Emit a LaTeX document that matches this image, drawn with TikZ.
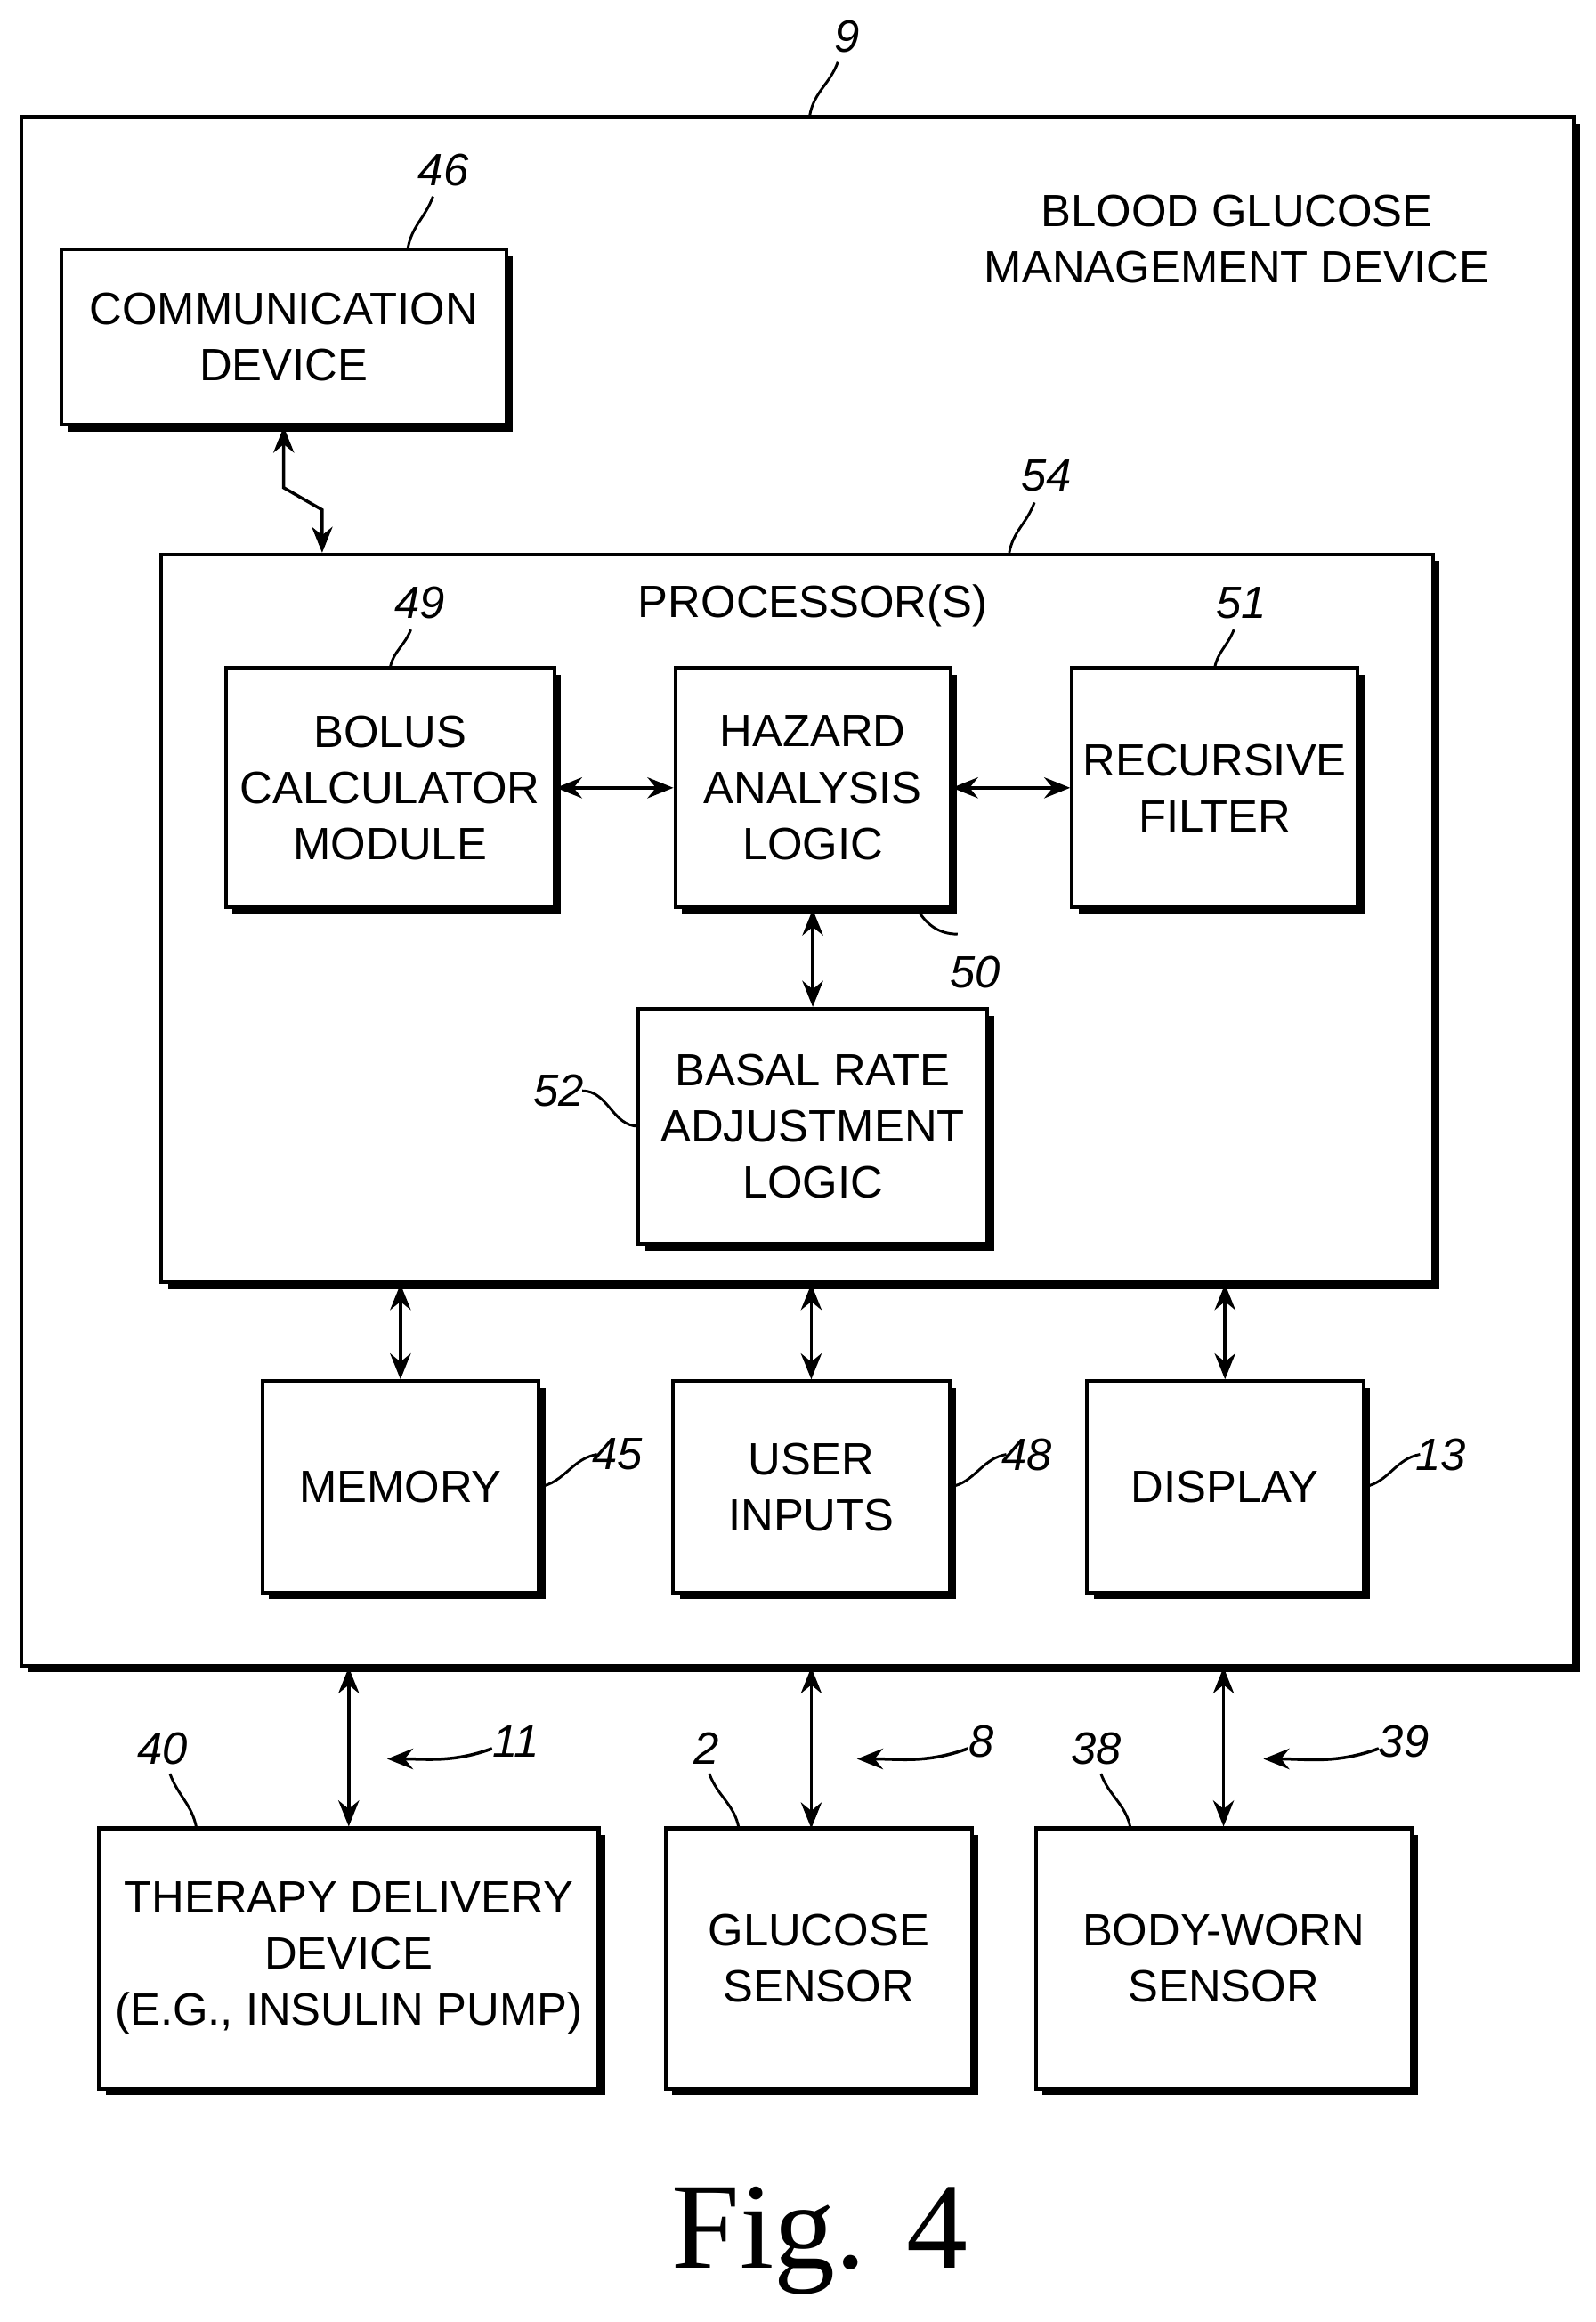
\documentclass[tikz,border=0pt]{standalone}
\usepackage{fontspec}
\setmainfont{Liberation Sans}
\newfontfamily\figfont{Liberation Serif}
\usetikzlibrary{shadows,arrows.meta}

\tikzset{
  box/.style={draw, fill=white, line width=0.7pt, align=center, inner sep=0pt,
    font=\fontsize{8.7}{10.8}\selectfont,
    general shadow={shadow xshift=1.3pt, shadow yshift=-1.3pt, fill=black}},
  lbl/.style={font=\fontsize{8.7}{10.8}\selectfont\itshape},
  lead/.style={line width=0.5pt},
  link/.style={line width=0.6pt, {Stealth[length=5pt,width=4pt]}-{Stealth[length=5pt,width=4pt]}},
  ptr/.style={line width=0.6pt, -{Stealth[length=5pt,width=4pt]}}
}

\begin{document}
\begin{tikzpicture}[x=0.01cm, y=-0.01cm]
	\useasboundingbox (0,0) rectangle (1080,1571);
	% outer device
	\node[box, minimum width=1050\pgflinewidth, anchor=north west, minimum width=10.5cm, minimum height=10.47cm] (dev) at (13,78) {};
	\node[align=center, font=\fontsize{8.7}{10.8}\selectfont] (devname) at (837,162) {BLOOD GLUCOSE\\MANAGEMENT DEVICE};
	\node[box, minimum width=3.01cm, minimum height=1.19cm] (comm) at (192,228) {COMMUNICATION\\DEVICE};
	% processor block
	\node[box, anchor=north west, minimum width=8.6cm, minimum height=4.92cm] (proc) at (108,374) {};
	\node[font=\fontsize{8.7}{10.8}\selectfont] (procname) at (550,410) {PROCESSOR(S)};
	\node[box, minimum width=2.22cm, minimum height=1.62cm] (bolus) at (264,533) {BOLUS\\CALCULATOR\\MODULE};
	\node[box, minimum width=1.86cm, minimum height=1.62cm] (hazard) at (550,533) {HAZARD\\ANALYSIS\\LOGIC};
	\node[box, minimum width=1.93cm, minimum height=1.62cm] (filter) at (822,533) {RECURSIVE\\FILTER};
	\node[box, minimum width=2.36cm, minimum height=1.59cm] (basal) at (550,762) {BASAL RATE\\ADJUSTMENT\\LOGIC};
	% lower row inside
	\node[box, minimum width=1.87cm, minimum height=1.43cm] (memory) at (271,1006) {MEMORY};
	\node[box, minimum width=1.87cm, minimum height=1.43cm] (inputs) at (549,1006) {USER\\INPUTS};
	\node[box, minimum width=1.87cm, minimum height=1.43cm] (display) at (829,1006) {DISPLAY};
	% external devices
	\node[box, minimum width=3.38cm, minimum height=1.76cm] (pump) at (236,1325) {THERAPY DELIVERY\\DEVICE\\(E.G., INSULIN PUMP)};
	\node[box, minimum width=2.07cm, minimum height=1.76cm] (gsensor) at (554,1325) {GLUCOSE\\SENSOR};
	\node[box, minimum width=2.54cm, minimum height=1.76cm] (bsensor) at (828,1325) {BODY-WORN\\SENSOR};
	\node[font=\figfont\fontsize{23.6}{28}\selectfont] (fig) at (555,1516) {Fig. 4};
	% connectors
	\coordinate (c1) at (192,330);
	\coordinate (c2) at (218,345);
	\draw[link] (comm.south) -- (c1) -- (c2) -- (218,374);
	\draw[link] (bolus.east) -- (hazard.west);
	\draw[link] (hazard.east) -- (filter.west);
	\draw[link] (hazard.south) -- (basal.north);
	\draw[link] (proc.south -| memory.north) -- (memory.north);
	\draw[link] (proc.south -| inputs.north) -- (inputs.north);
	\draw[link] (proc.south -| display.north) -- (display.north);
	\draw[link] (dev.south -| pump.north) -- (pump.north);
	\draw[link] (dev.south -| 549,0) -- (549,1237);
	\draw[link] (dev.south -| bsensor.north) -- (bsensor.north);
	% pointer arrows
	\draw[ptr] (333,1183) to[out=200,in=0] (262,1190);
	\node[lbl] (n11) at (349,1178) {11};
	\draw[ptr] (655,1183) to[out=200,in=0] (580,1190);
	\node[lbl] (n8) at (664,1178) {8};
	\draw[ptr] (933,1183) to[out=200,in=0] (855,1190);
	\node[lbl] (n39) at (950,1178) {39};
	% reference numerals
	\node[lbl] (n9) at (573,25) {9};
	\draw[lead] (548,78) to[out=80,in=250] (567,42);
	\node[lbl] (n46) at (300,115) {46};
	\draw[lead] (276,168) to[out=80,in=250] (293,133);
	\node[lbl] (n54) at (708,322) {54};
	\draw[lead] (683,374) to[out=80,in=250] (700,340);
	\node[lbl] (n49) at (284,408) {49};
	\draw[lead] (264,452) to[out=80,in=250] (278,426);
	\node[lbl] (n51) at (840,408) {51};
	\draw[lead] (822,452) to[out=80,in=250] (835,426);
	\node[lbl] (n50) at (660,658) {50};
	\draw[lead] (620,614) to[out=-60,in=180] (648,632);
	\node[lbl] (n52) at (378,738) {52};
	\draw[lead] (432,762) to[out=180,in=0] (394,738);
	\node[lbl] (n45) at (418,984) {45};
	\draw[lead] (365,1006) to[out=10,in=190] (404,984);
	\node[lbl] (n48) at (695,984) {48};
	\draw[lead] (643,1006) to[out=10,in=190] (681,984);
	\node[lbl] (n13) at (975,984) {13};
	\draw[lead] (923,1006) to[out=10,in=190] (961,984);
	\node[lbl] (n40) at (110,1183) {40};
	\draw[lead] (133,1237) to[out=100,in=290] (115,1200);
	\node[lbl] (n2) at (478,1183) {2};
	\draw[lead] (500,1237) to[out=100,in=290] (480,1200);
	\node[lbl] (n38) at (742,1183) {38};
	\draw[lead] (765,1237) to[out=100,in=290] (745,1200);
\end{tikzpicture}
\end{document}
